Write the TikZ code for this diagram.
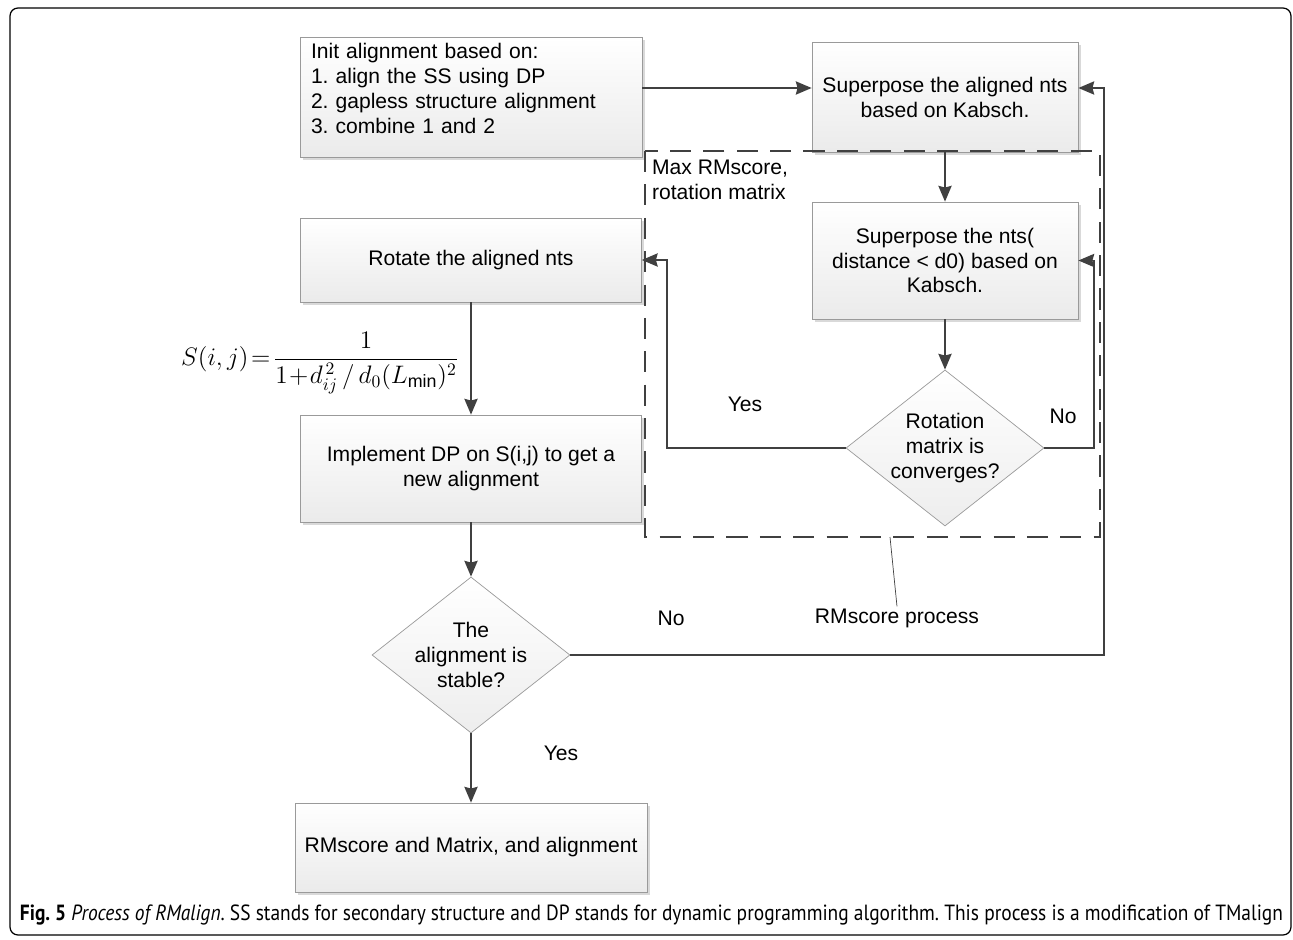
\documentclass[tikz,border=0pt]{standalone}
\usepackage{fontspec}
\setmainfont{Liberation Sans}
\newfontfamily\capfont{PT Sans}
\usepackage{amsmath}
\usepackage{graphicx}
\usepackage{tikz}
\usetikzlibrary{shapes.geometric, arrows.meta, shadows, positioning}
\definecolor{linegray}{HTML}{404040}
\definecolor{edgegray}{HTML}{9A9A9A}
\frenchspacing
\newcommand{\boxfont}{\fontsize{12}{14.2}\selectfont}
\tikzstyle{process} = [rectangle, text centered, align=center, draw=edgegray,
top color=white, bottom color=gray!16, font=\boxfont,
drop shadow={shadow xshift=1.5pt, shadow yshift=-1.5pt, opacity=0.3}]
\tikzstyle{decision} = [diamond, aspect=1.27, inner sep=0pt, align=center,
draw=edgegray, top color=white, bottom color=gray!14, font=\boxfont,
minimum width=3.96cm, minimum height=3.12cm]
\tikzstyle{arrow} = [line width=1.1pt, draw=linegray, ->,
>={Stealth[length=9pt, width=7.5pt, inset=1pt]}]
\tikzstyle{note} = [font=\boxfont, inner sep=1pt]
\tikzstyle{groupbox} = [line width=1.1pt, draw=linegray, dash pattern=on 12pt off 7pt]

\begin{document}
\begin{tikzpicture}
    \useasboundingbox (0,0) rectangle (25.86,-18.8);
    \draw [rounded corners=0.16cm, line width=0.7pt] (0.2,-0.16) rectangle (25.82,-18.7);
    \node (init) [process, align=left, text width=6.4cm, inner xsep=0.22cm, minimum height=2.2cm] at (9.42,-1.94) {Init alignment based on:\\1. align the SS using DP\\2. gapless structure alignment\\3. combine 1 and 2\\[-4pt]\mbox{}};
    \node (supA) [process, right of=init, node distance=9.48cm, minimum width=5.32cm, minimum height=2.2cm] {Superpose the aligned nts\\based on Kabsch.};
    \node (supB) [process, below of=supA, node distance=3.27cm, minimum width=5.32cm, minimum height=2.34cm] {Superpose the nts(\\distance < d0) based on\\Kabsch.};
    \node (conv) [decision, below of=supB, node distance=3.75cm] {Rotation\\matrix is\\converges?};
    \node (rotate) [process, below of=init, node distance=3.26cm, minimum width=6.82cm, minimum height=1.68cm] {Rotate the aligned nts};
    \node (impl) [process, below of=rotate, node distance=4.17cm, minimum width=6.82cm, minimum height=2.14cm] {Implement DP on S(i,j) to get a\\new alignment};
    \node (stable) [decision, below of=impl, node distance=3.73cm] {The\\alignment is\\stable?};
    \node (final) [process, below of=stable, node distance=3.85cm, minimum width=7.04cm, minimum height=1.78cm] {RMscore and Matrix, and alignment};
    \node (score) at (6.4,-7.26) {\fontsize{14.5}{17}\selectfont$S(i,j)\!=\!\dfrac{1}{1\!+\!d_{ij}^{\,2}\,/\,d_{0}(L_{\min})^{2}}$};
    \draw [groupbox] (12.9,-3.02) rectangle (22.0,-10.74);
    \node (maxlbl) [note, anchor=west, align=left] at (13.0,-3.6) {Max RMscore,\\rotation matrix};
    \node (rmslbl) [note] at (17.94,-12.36) {RMscore process};
    \coordinate (tick) at (17.8,-10.74);
    \draw [line width=0.4pt, draw=linegray] (tick) -- (rmslbl.north);
    \draw [arrow] ([yshift=0.18cm]init.east) -- ([yshift=0.18cm]supA.west);
    \draw [arrow] (supA.south) -- (supB.north);
    \draw [arrow] (supB.south) -- (conv.north);
    \draw [arrow] (conv.east) -- ++(1.0,0) |- (supB.east);
    \draw [arrow] (conv.west) -- ++(-3.58,0) |- (rotate.east);
    \draw [arrow] (rotate.south) -- (impl.north);
    \draw [arrow] (impl.south) -- (stable.north);
    \draw [arrow] (stable.east) -- ++(10.68,0) |- ([yshift=0.18cm]supA.east);
    \draw [arrow] (stable.south) -- (final.north);
    \node (yesA) [note] at (14.9,-8.08) {Yes};
    \node (noA) [note] at (21.26,-8.32) {No};
    \node (noB) [note] at (13.42,-12.36) {No};
    \node (yesB) [note] at (11.22,-15.06) {Yes};
    \node (caption) at (13.03,-18.3) {\resizebox{25.26cm}{\height}{\capfont\fontsize{12.5}{15}\selectfont\textbf{Fig. 5} \textit{Process of RMalign}. SS stands for secondary structure and DP stands for dynamic programming algorithm. This process is a modification of TMalign}};
\end{tikzpicture}
\end{document}
